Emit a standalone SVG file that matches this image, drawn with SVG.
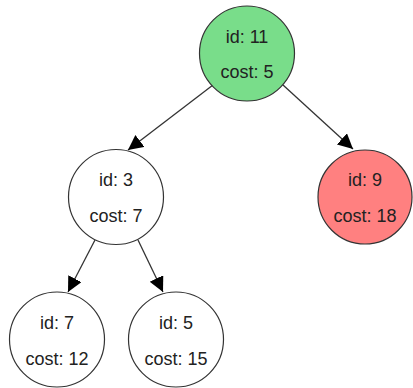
<svg xmlns="http://www.w3.org/2000/svg" width="413" height="388" viewBox="0 0 413 388">
<style>
.n{stroke:#333;stroke-width:1.2}
.t{font-family:"Liberation Sans",Arial,sans-serif;font-size:18px;fill:#222;text-anchor:middle}
.e{stroke:#333;stroke-width:1.3;fill:none;marker-end:url(#ah)}
</style>
<defs>
<marker id="ah" markerUnits="userSpaceOnUse" markerWidth="16" markerHeight="16" refX="15" refY="7.5" orient="auto">
<path d="M0,0 L15,7.5 L0,15 z" fill="#000"/>
</marker>
</defs>
<rect width="413" height="388" fill="#fff"/>
<g id="connectors">
<line class="e" x1="213" y1="85" x2="128" y2="150"/>
<line class="e" x1="283" y1="85" x2="353" y2="149"/>
<line class="e" x1="95" y1="240" x2="68" y2="292"/>
<line class="e" x1="138" y1="240" x2="163" y2="292"/>
</g>
<g id="node11">
<circle class="n" cx="247" cy="53.5" r="47.5" fill="#79dd8a"/>
<text class="t" x="247" y="43">id: 11</text>
<text class="t" x="247" y="78">cost: 5</text>
</g>
<g id="node3">
<circle class="n" cx="116" cy="197" r="47.5" fill="#fff"/>
<text class="t" x="116" y="186">id: 3</text>
<text class="t" x="116" y="222">cost: 7</text>
</g>
<g id="node9">
<circle class="n" cx="365" cy="197" r="47" fill="#ff8080"/>
<text class="t" x="365" y="186">id: 9</text>
<text class="t" x="365" y="222">cost: 18</text>
</g>
<g id="node7">
<circle class="n" cx="57" cy="339.5" r="47.5" fill="#fff"/>
<text class="t" x="57" y="329">id: 7</text>
<text class="t" x="57" y="365">cost: 12</text>
</g>
<g id="node5">
<circle class="n" cx="176" cy="339.5" r="47.5" fill="#fff"/>
<text class="t" x="176" y="329">id: 5</text>
<text class="t" x="176" y="365">cost: 15</text>
</g>
</svg>
